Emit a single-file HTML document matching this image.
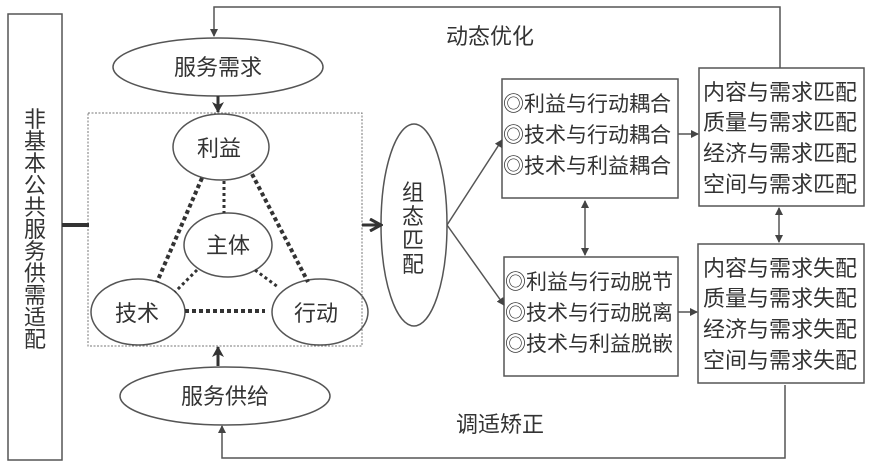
<!DOCTYPE html>
<html><head><meta charset="utf-8"><style>
body{margin:0;background:#fff}
svg{display:block}
text{font-family:"Liberation Sans","Noto Sans CJK SC",sans-serif;fill:#333}
</style></head><body>
<svg width="870" height="462" viewBox="0 0 870 462" xmlns="http://www.w3.org/2000/svg">
<defs>
<marker id="a" markerWidth="8" markerHeight="8" refX="7" refY="4" orient="auto-start-reverse" markerUnits="userSpaceOnUse"><path d="M0,0 L8,4 L0,8 z" fill="#444"/></marker>
<marker id="b" markerWidth="12" markerHeight="12" refX="10" refY="6" orient="auto" markerUnits="userSpaceOnUse"><path d="M0,0 L11,6 L0,12 L3,6 z" fill="#333"/></marker>
<marker id="c" markerWidth="14" markerHeight="14" refX="12" refY="7" orient="auto" markerUnits="userSpaceOnUse"><path d="M1,1 L12,7 L1,13" fill="none" stroke="#333" stroke-width="3"/></marker>
</defs>
<g fill="none" stroke="#555" stroke-width="1.5">
<rect x="8" y="14" width="54" height="446"/>
<path d="M780,68 V7 H214 V36" marker-end="url(#a)"/>
<path d="M785,385 V458 H222 V426" marker-end="url(#a)"/>
<ellipse cx="218" cy="67" rx="105" ry="29"/>
<ellipse cx="225" cy="396" rx="105" ry="29"/>
<ellipse cx="221" cy="147" rx="48" ry="33"/>
<ellipse cx="228" cy="245" rx="44" ry="32"/>
<ellipse cx="138" cy="312" rx="47" ry="33"/>
<ellipse cx="320" cy="312" rx="48" ry="33"/>
<ellipse cx="414" cy="225" rx="33" ry="101"/>
<rect x="502" y="79" width="176" height="119"/>
<rect x="504" y="257" width="174" height="119"/>
<rect x="699" y="68" width="165" height="138"/>
<rect x="698" y="244" width="166" height="139"/>
<path d="M447,225 L502,140" marker-end="url(#a)"/>
<path d="M447,225 L504,305" marker-end="url(#a)"/>
<path d="M678,134 H698" marker-end="url(#a)"/>
<path d="M678,312 H697" marker-end="url(#a)"/>
<path d="M585,201 V255" marker-start="url(#a)" marker-end="url(#a)"/>
<path d="M779,208 V242" marker-start="url(#a)" marker-end="url(#a)"/>
</g>
<rect x="88" y="113" width="274" height="233" fill="none" stroke="#777" stroke-width="1" stroke-dasharray="2 1.5"/>
<path d="M62,225 H89" stroke="#333" stroke-width="4"/>
<path d="M218,96 V112" stroke="#333" stroke-width="3" marker-end="url(#b)"/>
<path d="M218,366 V347" stroke="#333" stroke-width="3" marker-end="url(#b)"/>
<path d="M362,225 H381" stroke="#333" stroke-width="3" marker-end="url(#c)"/>
<g stroke="#333" fill="none" stroke-width="4" stroke-dasharray="4 3">
<path d="M202,178 L157,282"/><path d="M252,174 L308,282"/><path d="M185,311 H265"/>
</g>
<g stroke="#333" fill="none" stroke-width="3" stroke-dasharray="3 3">
<path d="M224,181 V213"/><path d="M197,270 L175,292"/><path d="M255,270 L278,287"/>
</g>
<g font-size="22" text-anchor="middle">
<text x="218" y="75">服务需求</text>
<text x="225" y="404">服务供给</text>
<text x="219" y="156">利益</text>
<text x="228" y="253">主体</text>
<text x="137" y="321">技术</text>
<text x="316" y="321">行动</text>
<text x="490" y="44">动态优化</text>
<text x="500" y="432">调适矫正</text>
</g>
<g font-size="22" text-anchor="middle">
<text x="35" y="127">非</text><text x="35" y="149">基</text><text x="35" y="171">本</text><text x="35" y="193">公</text><text x="35" y="215">共</text><text x="35" y="237">服</text><text x="35" y="259">务</text><text x="35" y="281">供</text><text x="35" y="303">需</text><text x="35" y="325">适</text><text x="35" y="347">配</text>
<text x="413" y="200">组</text><text x="413" y="224">态</text><text x="413" y="248">匹</text><text x="413" y="272">配</text>
</g>
<g font-size="21">
<text x="503" y="111">◎利益与行动耦合</text>
<text x="503" y="142">◎技术与行动耦合</text>
<text x="503" y="173">◎技术与利益耦合</text>
<text x="505" y="289">◎利益与行动脱节</text>
<text x="505" y="320">◎技术与行动脱离</text>
<text x="505" y="351">◎技术与利益脱嵌</text>
</g>
<g font-size="22">
<text x="703" y="100">内容与需求匹配</text>
<text x="703" y="130">质量与需求匹配</text>
<text x="703" y="161">经济与需求匹配</text>
<text x="703" y="192">空间与需求匹配</text>
<text x="703" y="276">内容与需求失配</text>
<text x="703" y="306">质量与需求失配</text>
<text x="703" y="337">经济与需求失配</text>
<text x="703" y="368">空间与需求失配</text>
</g>
</svg>
</body></html>
